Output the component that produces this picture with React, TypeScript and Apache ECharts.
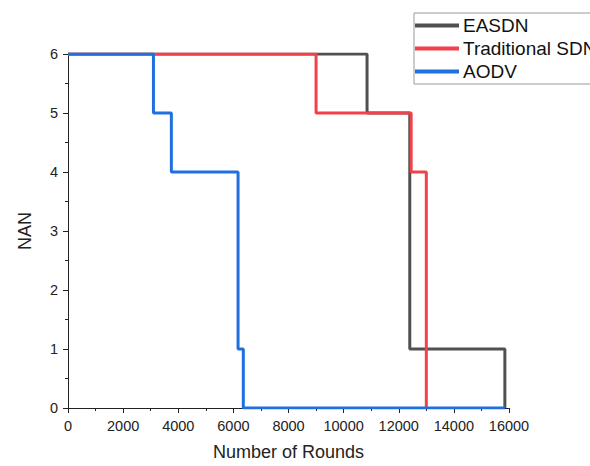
import React, { useEffect, useRef } from "react";
import * as echarts from "echarts";

const seriesNames = ["EASDN", "Traditional SDN", "AODV"];
const easdnX = [0, 10850, 12400, 15850];
const easdnY = [6, 5, 1, 0];
const tradX = [0, 9000, 12450, 13000];
const tradY = [6, 5, 4, 0];
const aodvX = [0, 3100, 3750, 6170, 6360, 15850];
const aodvY = [6, 5, 4, 1, 0, 0];
const colors = ["#505050", "#f2414a", "#1f6fe0"];

const zip = (xs: number[], ys: number[]) => xs.map((x, i) => [x, ys[i]]);

export default function App() {
  const ref = useRef<HTMLDivElement>(null);
  useEffect(() => {
    if (!ref.current) return;
    const chart = echarts.init(ref.current, undefined, { renderer: "svg" });
    const font = "Liberation Sans, Arial, sans-serif";
    const axisCommon = {
      axisLine: { show: true, lineStyle: { color: "#222", width: 1 } },
      axisTick: { show: true, inside: false, length: 5, lineStyle: { color: "#222" } },
      minorTick: { show: true, splitNumber: 2, length: 3, lineStyle: { color: "#222" } },
      splitLine: { show: false },
      axisLabel: {
        color: "#222",
        fontSize: 14.5,
        fontFamily: font,
        margin: 10,
        formatter: (v: number) => String(v),
      },
      nameTextStyle: { color: "#222", fontSize: 18, fontFamily: font },
    };
    chart.setOption({
      animation: false,
      grid: { left: 68, right: 81, top: 54, bottom: 56 },
      legend: {
        orient: "vertical",
        left: 414,
        top: 13,
        padding: [3, 10, 3, 1],
        itemGap: 4,
        itemWidth: 44,
        itemHeight: 4,
        icon: "rect",
        borderColor: "#999",
        borderWidth: 1,
        textStyle: { fontSize: 19, fontFamily: font, color: "#111", padding: [0, 0, 0, -1] },
        data: seriesNames,
      },
      xAxis: {
        type: "value",
        min: 0,
        max: 16000,
        interval: 2000,
        name: "Number of Rounds",
        nameLocation: "middle",
        nameGap: 35,
        ...axisCommon,
      },
      yAxis: {
        type: "value",
        min: 0,
        max: 6,
        interval: 1,
        name: "NAN",
        nameLocation: "middle",
        nameGap: 34,
        ...axisCommon,
      },
      series: [
        { name: seriesNames[0], data: zip(easdnX, easdnY), color: colors[0] },
        { name: seriesNames[1], data: zip(tradX, tradY), color: colors[1] },
        { name: seriesNames[2], data: zip(aodvX, aodvY), color: colors[2] },
      ].map((s) => ({
        ...s,
        type: "line",
        step: "end",
        symbol: "none",
        lineStyle: { width: 3, color: s.color },
        itemStyle: { color: s.color },
      })),
    });
    return () => chart.dispose();
  }, []);
  return <div ref={ref} style={{ width: 590, height: 466, position: "absolute", left: 0, top: 0 }} />;
}
